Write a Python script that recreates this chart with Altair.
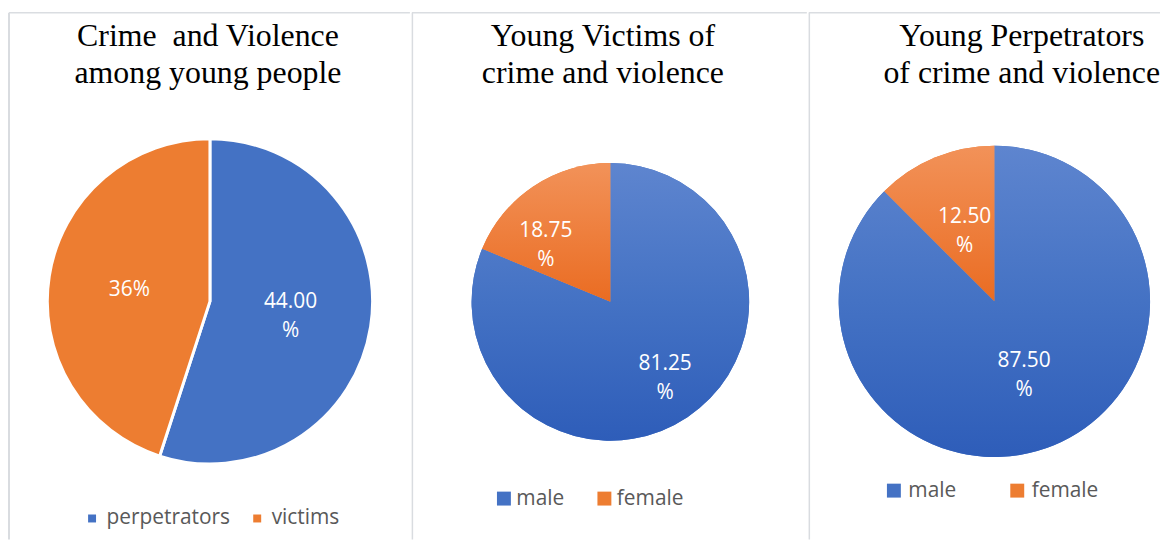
import altair as alt
import pandas as pd

BLUE = "#4472C4"
ORANGE = "#ED7D31"

# ---- data ----
p1_cats = ["perpetrators", "victims"]
p1_values = [44.0, 36.0]
p1_labels = ["44.00\n%", "36%"]
p1_title = ["Crime\u00a0 and Violence", "among young people"]

p2_cats = ["male", "female"]
p2_values = [81.25, 18.75]
p2_labels = ["81.25\n%", "18.75\n%"]
p2_title = ["Young Victims of", "crime and violence"]

p3_cats = ["male", "female"]
p3_values = [87.5, 12.5]
p3_labels = ["87.50\n%", "12.50\n%"]
p3_title = ["Young Perpetrators", "of crime and violence"]

H = 533


def grad(colors):
    n = len(colors)
    stops = [alt.GradientStop(offset=i / (n - 1), color=c) for i, c in enumerate(colors)]
    return alt.LinearGradient(gradient="linear", stops=stops, x1=0, x2=0, y1=0, y2=1)


def panel(cats, values, labels, title, W, cx, cy, r, lab, leg, tpos,
          fills=None, sep=0, border_w=1.5, border_x=0.5):
    df = pd.DataFrame({"cat": cats, "value": values, "label": labels,
                       "order": list(range(len(cats)))})
    total = sum(values)
    base = (alt.Chart(df)
            .transform_window(cum="sum(value)", sort=[alt.SortField("order")])
            .transform_calculate(start="datum.cum - datum.value",
                                 mid="datum.cum - datum.value / 2"))
    th = alt.Scale(domain=[0, total])
    lx, ly, ss, lf, lo, cp = leg
    color = alt.Color(
        "cat:N",
        scale=alt.Scale(domain=cats, range=[BLUE, ORANGE]),
        legend=alt.Legend(orient="none", legendX=lx, legendY=ly, direction="horizontal",
                          title=None, symbolType="square", symbolSize=ss,
                          symbolStrokeWidth=0, symbolOpacity=1,
                          labelFont="Open Sans", labelFontSize=lf, labelColor="#595959",
                          labelOffset=lo, columnPadding=cp, padding=0),
    )
    arc_kw = dict(radius=r)
    if sep:
        arc_kw.update(stroke="white", strokeWidth=sep)
    layers = []
    # borders
    one = alt.Data(values=[{}])
    layers.append(alt.Chart(one).mark_rule(color="#DADDE1", strokeWidth=1.5).encode(
        x=alt.value(0), x2=alt.value(W), y=alt.value(3.5)))
    layers.append(alt.Chart(one).mark_rule(color="#D9DCE0", strokeWidth=border_w).encode(
        x=alt.value(border_x), y=alt.value(3.5), y2=alt.value(H)))
    # pie
    layers.append(base.mark_arc(**arc_kw).encode(
        theta=alt.Theta("start:Q", scale=th), theta2="cum:Q", color=color,
        x=alt.value(cx), y=alt.value(cy)))
    if fills:
        for c, f in zip(cats, fills):
            layers.append(base.transform_filter(alt.datum.cat == c).mark_arc(radius=r, fill=f).encode(
                theta=alt.Theta("start:Q", scale=th), theta2="cum:Q",
                x=alt.value(cx), y=alt.value(cy)))
    for c, (lr, dx, dy) in zip(cats, lab):
        layers.append(base.transform_filter(alt.datum.cat == c).mark_text(
            radius=lr, dx=dx, dy=dy, font="Open Sans", fontSize=21, color="white",
            lineBreak="\n", lineHeight=29, baseline="middle", align="center").encode(
            theta=alt.Theta("mid:Q", scale=th), text="label:N",
            x=alt.value(cx), y=alt.value(cy)))
    # title
    layers.append(alt.Chart(one).mark_text(
        font="Liberation Serif", fontSize=32, color="black", align="center",
        baseline="alphabetic", lineHeight=37).encode(
        x=alt.value(tpos[0]), y=alt.value(tpos[1]), text=alt.value(title)))
    return alt.layer(*layers).properties(width=W, height=H)


blue_g = grad(["#5E85CF", "#4472C4", "#2E5DB9"])
orange_g = grad(["#F29259", "#EA6C22"])

p1 = panel(p1_cats, p1_values, p1_labels, p1_title, 403, 202, 293.5, 163.5,
           lab=[(82, 0, -12), (82, 0, 1)], leg=(73, 501, 64, 21, 4, 16),
           tpos=(200, 37), sep=3, border_w=2, border_x=0)
p2 = panel(p2_cats, p2_values, p2_labels, p2_title, 397, 199.5, 294, 139.5,
           lab=[(92, 4, -14), (70, -26, -13)], leg=(82, 481, 196, 21, 2, 29),
           tpos=(192, 37), fills=[blue_g, orange_g])
p3 = panel(p3_cats, p3_values, p3_labels, p3_title, 353, 186.5, 293.5, 156.5,
           lab=[(78, 0, -12), (78, 0, -13)], leg=(75, 473, 196, 21, 4, 50),
           tpos=(214, 37), fills=[blue_g, orange_g])

chart = (alt.hconcat(p1, p2, p3, spacing=0)
         .resolve_scale(color="independent", theta="independent")
         .properties(padding=0)
         .configure_view(strokeWidth=0))

chart.save("out.html", embed_options={"renderer": "svg", "actions": False})
